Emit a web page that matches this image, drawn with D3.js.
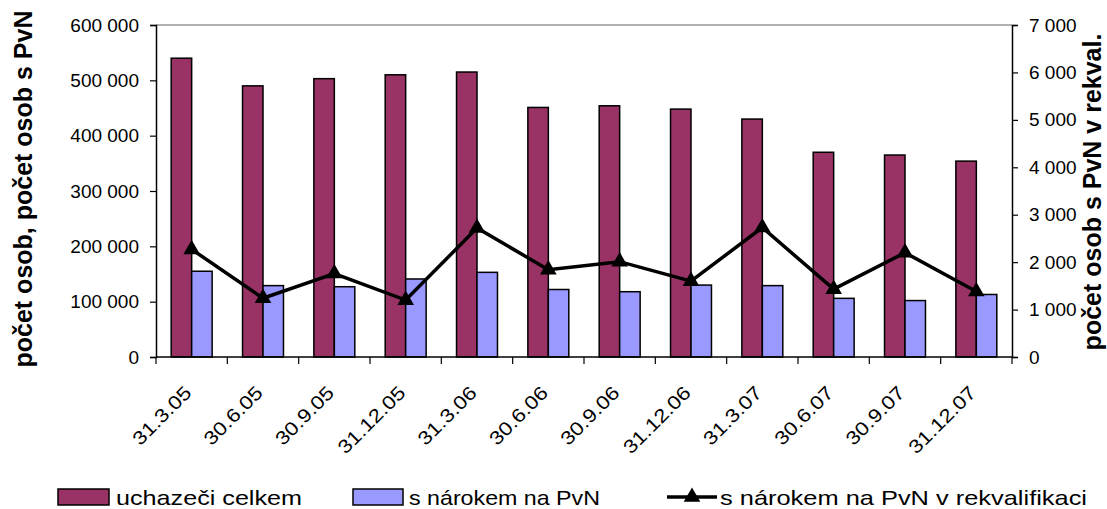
<!DOCTYPE html>
<html lang="cs">
<head>
<meta charset="utf-8">
<title>uchazeči celkem</title>
<script src="https://d3js.org/d3.v7.min.js"></script>
<style>
body { margin:0; background:white; font-family: Arial, "Liberation Sans", sans-serif; }
.bar { stroke:black; stroke-width:1.5; }
.axis path, .axis line { stroke:black; }
</style>
</head>
<body>
<div id="chart"></div>
<script>
var categories = ["31.3.05","30.6.05","30.9.05","31.12.05","31.3.06","30.6.06","30.9.06","31.12.06","31.3.07","30.6.07","30.9.07","31.12.07"];
var uchazeci = [540000,490000,503000,510000,515000,451000,454000,448000,430000,370000,365000,354000];
var sNarokem = [155000,129000,127000,141000,153000,122000,118000,130000,129000,106000,102000,113000];
var vRekval = [2270,1240,1760,1200,2720,1840,2010,1600,2730,1430,2200,1380];
var leftTicks = [0,100000,200000,300000,400000,500000,600000];
var rightTicks = [0,1000,2000,3000,4000,5000,6000,7000];

var W = 1107, H = 509;
var m = {left:156, right:1012, top:25, bottom:357};
var font = "Arial, 'Liberation Sans', sans-serif";

var svg = d3.select("#chart").append("svg").attr("width",W).attr("height",H).attr("font-family",font);

var fmt = function(d){ return d3.format(",")(d).replace(/,/g," "); };

var x = d3.scaleBand().domain(categories).range([m.left,m.right]).paddingInner(0).paddingOuter(0);
var y = d3.scaleLinear().domain([0,600000]).range([m.bottom,m.top]);
var y2 = d3.scaleLinear().domain([0,7000]).range([m.bottom,m.top]);

var bw = x.bandwidth()*0.287;
var cx = function(i){ return x(categories[i])+x.bandwidth()/2; };

// plot top border
svg.append("line").attr("x1",m.left).attr("x2",m.right).attr("y1",m.top).attr("y2",m.top)
	.attr("stroke","#999").attr("stroke-width",1.5);

// bars
svg.selectAll(".b1").data(uchazeci).enter().append("rect").attr("class","bar")
	.attr("x",function(d,i){ return cx(i)-bw; })
	.attr("y",function(d){ return y(d); }).attr("width",bw)
	.attr("height",function(d){ return m.bottom-y(d); }).attr("fill","#993366");
svg.selectAll(".b2").data(sNarokem).enter().append("rect").attr("class","bar")
	.attr("x",function(d,i){ return cx(i); })
	.attr("y",function(d){ return y(d); }).attr("width",bw)
	.attr("height",function(d){ return m.bottom-y(d); }).attr("fill","#9999ff");

// axes
var gl = svg.append("g").attr("class","axis").attr("transform","translate("+m.left+",0)")
	.call(d3.axisLeft(y).tickValues(leftTicks).tickFormat(fmt).tickSize(6).tickPadding(11));
var gr = svg.append("g").attr("class","axis").attr("transform","translate("+m.right+",0)")
	.call(d3.axisRight(y2).tickValues(rightTicks).tickFormat(fmt).tickSize(6).tickPadding(11));
[gl,gr].forEach(function(g){
	g.attr("font-size",19).attr("font-family",font);
	g.select(".domain").attr("stroke-width",1.5);
	g.selectAll(".tick line").attr("stroke-width",1.2);
	g.selectAll("text").attr("fill","black");
});

// x axis
svg.append("line").attr("x1",m.left).attr("x2",m.right).attr("y1",m.bottom).attr("y2",m.bottom)
	.attr("stroke","black").attr("stroke-width",1.5);
svg.selectAll(".xt").data(d3.range(categories.length+1)).enter().append("line")
	.attr("x1",function(i){ return m.left+i*x.step(); }).attr("x2",function(i){ return m.left+i*x.step(); })
	.attr("y1",m.bottom).attr("y2",m.bottom+7).attr("stroke","black").attr("stroke-width",1.2);
svg.selectAll(".xl").data(categories).enter().append("text")
	.attr("transform",function(d,i){ return "translate("+(cx(i)+1)+","+(m.bottom+37)+") rotate(-45) scale(1.17,1)"; })
	.attr("text-anchor","end").attr("font-size","19px").text(function(d){ return d; });

// line
var line = d3.line().x(function(d,i){ return cx(i); }).y(function(d){ return y2(d); });
svg.append("path").datum(vRekval).attr("d",line).attr("fill","none").attr("stroke","black").attr("stroke-width",3.5);
var tri = d3.symbol().type(d3.symbolTriangle).size(120);
svg.selectAll(".mk").data(vRekval).enter().append("path").attr("d",tri)
	.attr("transform",function(d,i){ return "translate("+cx(i)+","+y2(d)+")"; })
	.attr("fill","black");

// axis titles
svg.append("text").attr("transform","translate(32,189) rotate(-90)")
	.attr("text-anchor","middle").attr("font-size","25px").attr("font-weight","bold").text("počet osob, počet osob s PvN");
svg.append("text").attr("transform","translate(1101,192) rotate(-90)")
	.attr("text-anchor","middle").attr("font-size","25px").attr("font-weight","bold").text("počet osob s PvN v rekval.");

// legend
var lg = svg.append("g").attr("font-size","21px");
lg.append("rect").attr("x",58).attr("y",489).attr("width",51).attr("height",16).attr("fill","#993366").attr("stroke","black").attr("stroke-width",1.5);
lg.append("text").attr("x",116).attr("y",505).text("uchazeči celkem").attr("textLength",186).attr("lengthAdjust","spacingAndGlyphs");
lg.append("rect").attr("x",353).attr("y",489).attr("width",50).attr("height",16).attr("fill","#9999ff").attr("stroke","black").attr("stroke-width",1.5);
lg.append("text").attr("x",409).attr("y",505).text("s nárokem na PvN").attr("textLength",191).attr("lengthAdjust","spacingAndGlyphs");
lg.append("line").attr("x1",667).attr("x2",717).attr("y1",497).attr("y2",497).attr("stroke","black").attr("stroke-width",3.5);
lg.append("path").attr("d",tri).attr("transform","translate(692,497)").attr("fill","black");
lg.append("text").attr("x",720).attr("y",505).text("s nárokem na PvN v rekvalifikaci").attr("textLength",367).attr("lengthAdjust","spacingAndGlyphs");
</script>
</body>
</html>
